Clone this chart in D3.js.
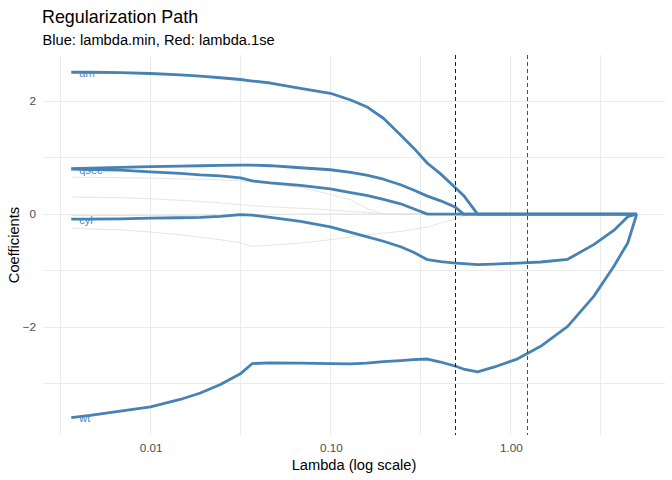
<!DOCTYPE html>
<html>
<head>
<meta charset="utf-8">
<script src="https://cdn.jsdelivr.net/npm/d3@7"></script>
<style>
  body { margin: 0; background: #fff; }
  text { font-family: "Liberation Sans", Arial, sans-serif; }
</style>
</head>
<body>
<svg id="chart"></svg>
<script>
// lambda grid (x values)
const lambdas = [0.00363, 0.00462, 0.00679, 0.0100, 0.0146, 0.0189, 0.0244, 0.0315, 0.0367, 0.0462,
  0.0679, 0.0995, 0.129, 0.158, 0.196, 0.244, 0.288, 0.344, 0.407, 0.493,
  0.546, 0.653, 0.802, 1.089, 1.462, 2.065, 2.880, 3.720, 4.448, 4.990];

// highlighted coefficients
const am = [2.51, 2.51, 2.505, 2.488, 2.465, 2.443, 2.413, 2.382, 2.355, 2.32,
  2.226, 2.138, 2.019, 1.901, 1.696, 1.401, 1.171, 0.90, 0.712, 0.46,
  0.33, 0, 0, 0, 0, 0, 0, 0, 0, 0];
const drat = [0.806, 0.815, 0.828, 0.84, 0.85, 0.856, 0.862, 0.866, 0.866, 0.856,
  0.82, 0.785, 0.74, 0.688, 0.617, 0.52, 0.425, 0.318, 0.235, 0.12,
  0, 0, 0, 0, 0, 0, 0, 0, 0, 0];
const qsec = [0.795, 0.786, 0.777, 0.747, 0.721, 0.694, 0.677, 0.64, 0.588, 0.553,
  0.509, 0.447, 0.382, 0.332, 0.261, 0.182, 0.094, 0, 0, 0,
  0, 0, 0, 0, 0, 0, 0, 0, 0, 0];
const cyl = [-0.088, -0.088, -0.083, -0.071, -0.065, -0.057, -0.039, -0.008, -0.02, -0.06,
  -0.13, -0.225, -0.322, -0.40, -0.481, -0.578, -0.675, -0.807, -0.843, -0.866,
  -0.878, -0.896, -0.887, -0.866, -0.848, -0.80, -0.54, -0.29, -0.045, 0];
const wt = [-3.604, -3.564, -3.488, -3.41, -3.281, -3.166, -3.016, -2.827, -2.645, -2.633,
  -2.636, -2.645, -2.65, -2.636, -2.61, -2.592, -2.574, -2.565, -2.618, -2.693,
  -2.742, -2.791, -2.71, -2.562, -2.339, -1.986, -1.456, -0.926, -0.512, 0];

// other coefficients (grey)
const vs = [0.654, 0.65, 0.645, 0.636, 0.624, 0.617, 0.606, 0.588, 0.571, 0.535,
  0.473, 0.35, 0.253, 0.1, 0, 0, 0, 0, 0, 0,
  0, 0, 0, 0, 0, 0, 0, 0, 0, 0];
const gear = [0.30, 0.297, 0.293, 0.27, 0.244, 0.223, 0.20, 0.164, 0.147, 0.129,
  0.102, 0.076, 0.046, 0.032, 0, 0, 0, 0, 0, 0,
  0, 0, 0, 0, 0, 0, 0, 0, 0, 0];
const carb = [-0.247, -0.265, -0.277, -0.318, -0.366, -0.41, -0.454, -0.507, -0.572, -0.551,
  -0.512, -0.454, -0.406, -0.371, -0.339, -0.307, -0.269, -0.23, -0.159, -0.083,
  -0.03, 0, 0, 0, 0, 0, 0, 0, 0, 0];
const hp = [-0.025, -0.025, -0.025, -0.024, -0.022, -0.02, -0.018, -0.015, -0.012, -0.008,
  0, 0, 0, 0, 0, 0, 0, 0, 0, 0,
  0, 0, 0, 0, 0, 0, 0, 0, 0, 0];

const lambdaMin = 0.495;
const lambda1se = 1.243;

const xTicks = [0.01, 0.1, 1];
const xTickLabels = ["0.01", "0.10", "1.00"];
const xMinor = [0.00316, 0.0316, 0.316, 3.16];
const yTicks = [-2, 0, 2];
const yMinor = [-3, -1, 1];

const highlighted = [
  { name: "am", values: am, label: true },
  { name: "drat", values: drat, label: false },
  { name: "qsec", values: qsec, label: true },
  { name: "cyl", values: cyl, label: true },
  { name: "wt", values: wt, label: true }
];
const others = [
  { name: "vs", values: vs },
  { name: "gear", values: gear },
  { name: "carb", values: carb },
  { name: "hp", values: hp }
];

const width = 672;
const height = 480;
const panel = { left: 43, right: 665, top: 55, bottom: 435 };

const svg = d3.select("#chart")
  .attr("width", width)
  .attr("height", height);

// ggplot style 5% expansion
const lx = d3.extent(lambdas).map(Math.log10);
const padX = (lx[1] - lx[0]) * 0.05;
const xScale = d3.scaleLog()
  .domain([Math.pow(10, lx[0] - padX), Math.pow(10, lx[1] + padX)])
  .range([panel.left, panel.right]);

const allVals = highlighted.concat(others).flatMap(s => s.values);
const ext = d3.extent(allVals);
const padY = (ext[1] - ext[0]) * 0.05;
const yScale = d3.scaleLinear()
  .domain([ext[0] - padY, ext[1] + padY])
  .range([panel.bottom, panel.top]);

// grid
const grid = svg.append("g").attr("shape-rendering", "crispEdges");
grid.selectAll(".xminor").data(xMinor).join("line")
  .attr("x1", d => xScale(d)).attr("x2", d => xScale(d))
  .attr("y1", panel.top).attr("y2", panel.bottom)
  .attr("stroke", "#ebebeb").attr("stroke-width", 1);
grid.selectAll(".yminor").data(yMinor).join("line")
  .attr("x1", panel.left).attr("x2", panel.right)
  .attr("y1", d => yScale(d)).attr("y2", d => yScale(d))
  .attr("stroke", "#ebebeb").attr("stroke-width", 1);
grid.selectAll(".xmajor").data(xTicks).join("line")
  .attr("x1", d => xScale(d)).attr("x2", d => xScale(d))
  .attr("y1", panel.top).attr("y2", panel.bottom)
  .attr("stroke", "#ebebeb").attr("stroke-width", 1);
grid.selectAll(".ymajor").data(yTicks).join("line")
  .attr("x1", panel.left).attr("x2", panel.right)
  .attr("y1", d => yScale(d)).attr("y2", d => yScale(d))
  .attr("stroke", "#ebebeb").attr("stroke-width", 1);

// axes (text only, like theme_minimal)
const xAxis = d3.axisBottom(xScale)
  .tickValues(xTicks)
  .tickFormat((d, i) => xTickLabels[i])
  .tickSize(0)
  .tickPadding(6);
const gx = svg.append("g")
  .attr("transform", `translate(0, ${panel.bottom + 3})`)
  .call(xAxis);
gx.select(".domain").remove();
gx.selectAll("text")
  .attr("fill", "#4d4d4d")
  .style("font-size", "11.7px")
  .style("font-family", "Liberation Sans, Arial, sans-serif");

const yAxis = d3.axisLeft(yScale)
  .tickValues(yTicks)
  .tickFormat(d3.format("d"))
  .tickSize(0)
  .tickPadding(7);
const gy = svg.append("g")
  .attr("transform", `translate(${panel.left}, 0)`)
  .call(yAxis);
gy.select(".domain").remove();
gy.selectAll("text")
  .attr("fill", "#4d4d4d")
  .style("font-size", "11.7px")
  .style("font-family", "Liberation Sans, Arial, sans-serif");

const line = d3.line()
  .x((d, i) => xScale(lambdas[i]))
  .y(d => yScale(d));

// grey paths
svg.append("g").selectAll("path").data(others).join("path")
  .attr("d", d => line(d.values))
  .attr("fill", "none")
  .attr("stroke", "#dedede")
  .attr("stroke-width", 0.8);

// labels (drawn under the lines)
svg.append("g").selectAll("text").data(highlighted.filter(d => d.label)).join("text")
  .attr("x", d => xScale(lambdas[0]) + 8)
  .attr("y", d => yScale(d.values[0]) + 4.7)
  .attr("fill", "#4a86c0")
  .style("font-size", "11px")
  .text(d => d.name);

// highlighted paths
svg.append("g").selectAll("path").data(highlighted).join("path")
  .attr("d", d => line(d.values))
  .attr("fill", "none")
  .attr("stroke", "steelblue")
  .attr("stroke-width", 2.8)
  .attr("stroke-linejoin", "round");

// lambda.min / lambda.1se
const vlines = svg.append("g").attr("shape-rendering", "crispEdges");
vlines.append("line")
  .attr("x1", xScale(lambdaMin)).attr("x2", xScale(lambdaMin))
  .attr("y1", panel.top).attr("y2", panel.bottom)
  .attr("stroke", "#0000ff").attr("stroke-width", 1)
  .attr("stroke-dasharray", "4,3");
vlines.append("line")
  .attr("x1", xScale(lambda1se)).attr("x2", xScale(lambda1se))
  .attr("y1", panel.top).attr("y2", panel.bottom)
  .attr("stroke", "#ff0000").attr("stroke-width", 1)
  .attr("stroke-dasharray", "4,3");

// titles
svg.append("text")
  .attr("x", 42).attr("y", 22.5)
  .style("font-size", "17.9px")
  .attr("fill", "#000")
  .text("Regularization Path");
svg.append("text")
  .attr("x", 42.5).attr("y", 45)
  .style("font-size", "14.67px")
  .attr("fill", "#000")
  .text("Blue: lambda.min, Red: lambda.1se");
svg.append("text")
  .attr("x", (panel.left + panel.right) / 2).attr("y", 470)
  .attr("text-anchor", "middle")
  .style("font-size", "14.67px")
  .text("Lambda (log scale)");
svg.append("text")
  .attr("transform", `translate(19, ${(panel.top + panel.bottom) / 2}) rotate(-90)`)
  .attr("text-anchor", "middle")
  .style("font-size", "14.67px")
  .text("Coefficients");
</script>
</body>
</html>
